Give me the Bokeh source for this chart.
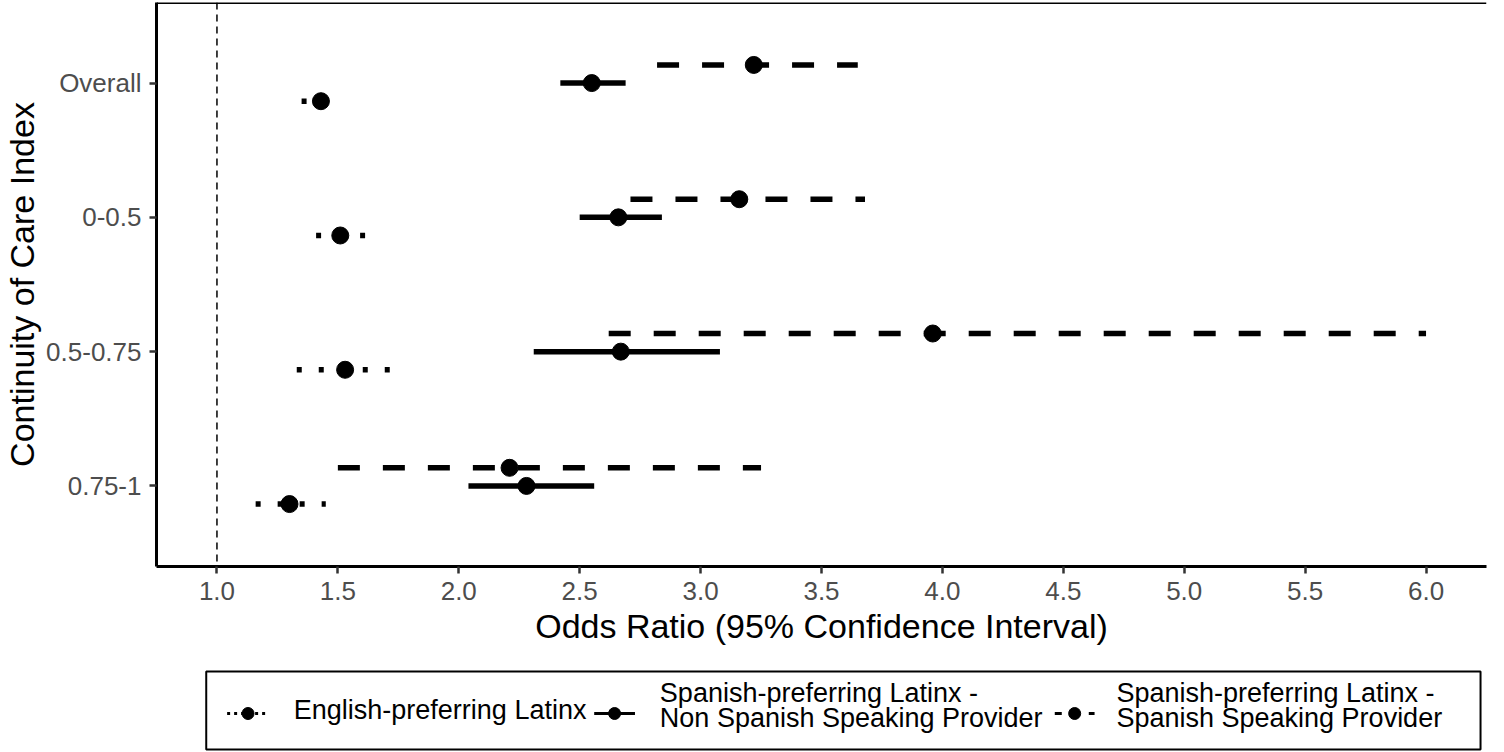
from bokeh.plotting import figure
from bokeh.models import Range1d, Span, FixedTicker
from bokeh.layouts import column
from bokeh.core.properties import value
from bokeh.embed import file_html
from bokeh.resources import INLINE

# ---------------- data ----------------
categories = ["Overall", "0-0.5", "0.5-0.75", "0.75-1"]

eng_or = [1.43, 1.51, 1.53, 1.30]
eng_lo = [1.35, 1.41, 1.33, 1.16]
eng_hi = [1.51, 1.62, 1.72, 1.45]

nsp_or = [2.55, 2.66, 2.67, 2.28]
nsp_lo = [2.42, 2.50, 2.31, 2.04]
nsp_hi = [2.69, 2.84, 3.08, 2.56]

ssp_or = [3.22, 3.16, 3.96, 2.21]
ssp_lo = [2.82, 2.71, 2.62, 1.50]
ssp_hi = [3.65, 3.68, 6.00, 3.25]

series_labels = [
    "English-preferring Latinx",
    "Spanish-preferring Latinx -\nNon Spanish Speaking Provider",
    "Spanish-preferring Latinx -\nSpanish Speaking Provider",
]
x_ticks = [1.0, 1.5, 2.0, 2.5, 3.0, 3.5, 4.0, 4.5, 5.0, 5.5, 6.0]
x_title = "Odds Ratio (95% Confidence Interval)"
y_title = "Continuity of Care Index"

FONT = "Liberation Sans"
n = len(categories)
y_base = [n - i for i in range(n)]          # Overall on top
dodge = 0.135
y_eng = [y - dodge for y in y_base]
y_nsp = list(y_base)
y_ssp = [y + dodge for y in y_base]

# ---------------- main plot ----------------
p = figure(width=1488, height=656,
           x_range=Range1d(0.75, 6.25), y_range=Range1d(0.4, 4.6),
           output_backend="svg", toolbar_location=None,
           min_border_left=149, min_border_right=2,
           min_border_top=2, min_border_bottom=90)
p.outline_line_color = None
p.xgrid.visible = False
p.ygrid.visible = False
p.background_fill_color = "white"
p.border_fill_color = "white"

# reference line at OR = 1
p.add_layout(Span(location=1.0, dimension="height", line_color="black",
                  line_width=1.5, line_dash="7 5"))
# top border of panel
p.add_layout(Span(location=4.6, dimension="width", line_color="black", line_width=3))

LW = 5.5
p.segment(x0=eng_lo, y0=y_eng, x1=eng_hi, y1=y_eng, line_color="black",
          line_width=LW, line_dash="5 17", line_cap="butt")
p.segment(x0=nsp_lo, y0=y_nsp, x1=nsp_hi, y1=y_nsp, line_color="black",
          line_width=LW, line_cap="butt")
p.segment(x0=ssp_lo, y0=y_ssp, x1=ssp_hi, y1=y_ssp, line_color="black",
          line_width=LW, line_dash="22 23", line_cap="butt")

p.scatter(x=eng_or, y=y_eng, size=17, color="black")
p.scatter(x=nsp_or, y=y_nsp, size=17, color="black")
p.scatter(x=ssp_or, y=y_ssp, size=17, color="black")

for ax in (p.xaxis[0], p.yaxis[0]):
    ax.axis_line_color = "black"
    ax.axis_line_width = 3
    ax.major_tick_line_color = "#333333"
    ax.major_tick_line_width = 2.5
    ax.major_tick_out = 7
    ax.major_tick_in = 0
    ax.minor_tick_line_color = None
    ax.major_label_text_font = FONT
    ax.major_label_text_font_size = "26px"
    ax.major_label_text_color = "#4D4D4D"
    ax.axis_label_text_font = FONT
    ax.axis_label_text_font_size = "34px"
    ax.axis_label_text_font_style = "normal"
    ax.axis_label_text_color = "black"

p.xaxis[0].ticker = FixedTicker(ticks=x_ticks)
p.xaxis[0].major_label_overrides = {t: f"{t:.1f}" for t in x_ticks}
p.xaxis[0].major_label_standoff = 8
p.xaxis[0].axis_label = x_title
p.xaxis[0].axis_label_standoff = 4

p.yaxis[0].ticker = FixedTicker(ticks=y_base)
p.yaxis[0].major_label_overrides = {y: c for y, c in zip(y_base, categories)}
p.yaxis[0].major_label_standoff = 8
p.yaxis[0].axis_label = y_title
p.yaxis[0].axis_label_standoff = 2

# ---------------- legend (drawn as its own small figure) ----------------
# The column aligns this figure's frame with the main panel (page x 157..1494),
# so the x range is expressed in page pixels.
LH = 95
lg = figure(width=1488, height=LH, x_range=Range1d(157, 1494), y_range=Range1d(LH, 0),
            output_backend="svg", toolbar_location=None, min_border=0)
lg.axis.visible = False
lg.xgrid.visible = False
lg.ygrid.visible = False
lg.outline_line_color = None
lg.background_fill_color = "white"
lg.border_fill_color = "white"

top_off = 14
lg.quad(left=[207], right=[1488], top=[top_off + 1], bottom=[top_off + 79],
        fill_color=None, line_color="black", line_width=2)

key_y = top_off + 43
keys = [  # (x start, x end, dash)
    (228, 270, "3 4"),
    (597, 638, "solid"),
    (1060, 1100, "7 10"),
]
text_x = [295, 663, 1122]
for (kx0, kx1, dash), tx, lab in zip(keys, text_x, series_labels):
    lg.segment(x0=[kx0], y0=[key_y], x1=[kx1], y1=[key_y], line_color="black",
               line_width=3, line_dash=dash, line_cap="butt")
    lg.scatter(x=[(kx0 + kx1) / 2], y=[key_y], size=12, color="black")
    lines = lab.split("\n")
    if len(lines) == 1:
        ys = [top_off + 39]
    else:
        ys = [top_off + 22, top_off + 47]
    lg.text(x=[tx] * len(lines), y=ys, text=lines, text_font=value(FONT),
            text_font_size="27px", text_baseline="middle", text_align="left",
            text_color="black")

layout = column(p, lg, spacing=0)
open("out.html", "w").write(file_html(layout, INLINE))
